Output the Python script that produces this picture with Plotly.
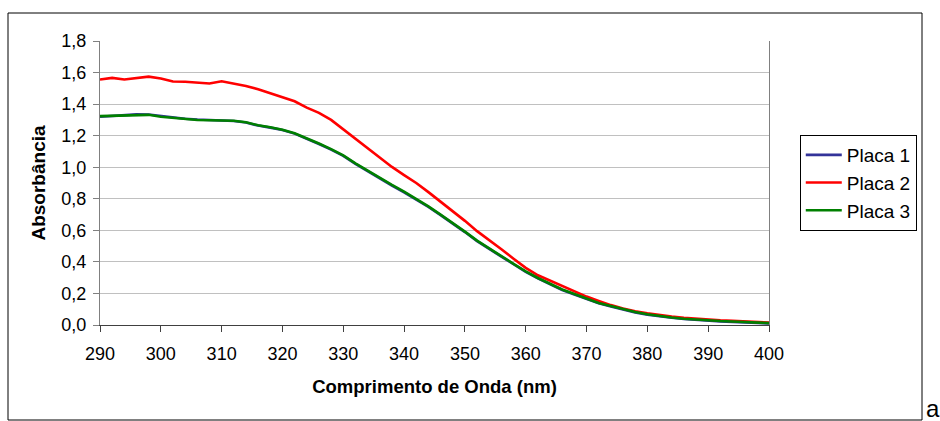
import plotly.graph_objects as go

# Wavelength grid (nm) and absorbance readings for the three plates
wavelength = [290, 292, 294, 296, 298, 300, 302, 304, 306, 308,
              310, 312, 314, 316, 318, 320, 322, 324, 326, 328,
              330, 332, 334, 336, 338, 340, 342, 344, 346, 348,
              350, 352, 354, 356, 358, 360, 362, 364, 366, 368,
              370, 372, 374, 376, 378, 380, 382, 384, 386, 388,
              390, 392, 394, 396, 398, 400]

placa_2 = [1.556, 1.566, 1.556, 1.566, 1.574, 1.562, 1.543, 1.542, 1.535, 1.531,
           1.545, 1.532, 1.515, 1.494, 1.470, 1.445, 1.418, 1.378, 1.345, 1.300,
           1.240, 1.180, 1.125, 1.065, 1.002, 0.950, 0.900, 0.842, 0.783, 0.724,
           0.660, 0.595, 0.540, 0.480, 0.420, 0.362, 0.315, 0.280, 0.245, 0.212,
           0.180, 0.153, 0.126, 0.105, 0.087, 0.074, 0.062, 0.053, 0.045, 0.039,
           0.034, 0.029, 0.026, 0.022, 0.019, 0.015]

placa_3 = [1.324, 1.326, 1.326, 1.330, 1.332, 1.320, 1.312, 1.305, 1.299, 1.298,
           1.298, 1.295, 1.285, 1.266, 1.253, 1.238, 1.215, 1.185, 1.150, 1.115,
           1.075, 1.025, 0.978, 0.930, 0.888, 0.845, 0.800, 0.752, 0.700, 0.648,
           0.592, 0.535, 0.488, 0.436, 0.388, 0.340, 0.298, 0.262, 0.225, 0.196,
           0.167, 0.140, 0.120, 0.100, 0.082, 0.068, 0.057, 0.048, 0.040, 0.034,
           0.029, 0.025, 0.022, 0.019, 0.016, 0.012]

placa_1 = [1.320, 1.324, 1.330, 1.335, 1.334, 1.325, 1.314, 1.307, 1.302, 1.298,
           1.297, 1.293, 1.283, 1.264, 1.251, 1.236, 1.213, 1.182, 1.147, 1.112,
           1.072, 1.021, 0.974, 0.926, 0.884, 0.841, 0.796, 0.748, 0.696, 0.644,
           0.589, 0.532, 0.485, 0.433, 0.385, 0.337, 0.295, 0.259, 0.222, 0.193,
           0.164, 0.137, 0.117, 0.097, 0.079, 0.066, 0.055, 0.046, 0.038, 0.032,
           0.027, 0.023, 0.020, 0.017, 0.014, 0.010]

series_names = ["Placa 1", "Placa 2", "Placa 3"]
series_values = [placa_1, placa_2, placa_3]
series_colors = ["#333399", "#ff0000", "#008000"]

x_ticks = list(range(290, 401, 10))
y_ticks = [0.0, 0.2, 0.4, 0.6, 0.8, 1.0, 1.2, 1.4, 1.6, 1.8]

FONT = "Arial, Liberation Sans, sans-serif"

fig = go.Figure()
for name, vals, color in zip(series_names, series_values, series_colors):
    fig.add_trace(go.Scatter(
        x=wavelength, y=vals, name=name, mode="lines",
        line=dict(color=color, width=2.6),
        legendgroup=name,
    ))

fig.update_layout(
    width=940, height=421,
    margin=dict(l=100, r=171, t=41, b=96),
    paper_bgcolor="white", plot_bgcolor="white",
    separators=",.",
    font=dict(family=FONT, size=18, color="black"),
    showlegend=True,
    legend=dict(
        x=1.046, xanchor="left", y=0.669, yanchor="top",
        bordercolor="black", borderwidth=1,
        font=dict(family=FONT, size=19, color="black"),
        traceorder="grouped", tracegroupgap=0,
        itemwidth=36,
    ),
    xaxis=dict(
        range=[290, 400], tickmode="array", tickvals=x_ticks,
        ticks="outside", ticklen=6, tickcolor="#404040",
        tickfont=dict(family=FONT, size=18), ticklabelstandoff=6,
        showline=True, linecolor="#404040", linewidth=1,
        showgrid=False, zeroline=False,
        title=dict(text="<b>Comprimento de Onda (nm)</b>",
                   font=dict(family=FONT, size=18.5), standoff=17),
    ),
    yaxis=dict(
        range=[0, 1.8], tickmode="array", tickvals=y_ticks,
        tickformat=".1f",
        ticks="outside", ticklen=6, tickcolor="#808080",
        tickfont=dict(family=FONT, size=18), ticklabelstandoff=3,
        showline=True, linecolor="#808080", linewidth=1, mirror=True,
        showgrid=True, gridcolor="#c0c0c0", gridwidth=1,
        zeroline=False,
        title=dict(text="<b>Absorbância</b>",
                   font=dict(family=FONT, size=19), standoff=10),
    ),
    shapes=[dict(
        type="rect", xref="paper", yref="paper",
        x0=(8 - 100) / 669, x1=(922 - 100) / 669,
        y0=(325 - 420) / 284, y1=(325 - 13) / 284,
        line=dict(color="black", width=1), fillcolor="rgba(0,0,0,0)",
        layer="below",
    )],
    annotations=[dict(
        text="a", xref="paper", yref="paper",
        x=(924 - 100) / 669, y=(325 - 424) / 284,
        xanchor="left", yanchor="bottom", showarrow=False,
        font=dict(family=FONT, size=24, color="black"),
    )],
)

fig.write_html("out.html")
